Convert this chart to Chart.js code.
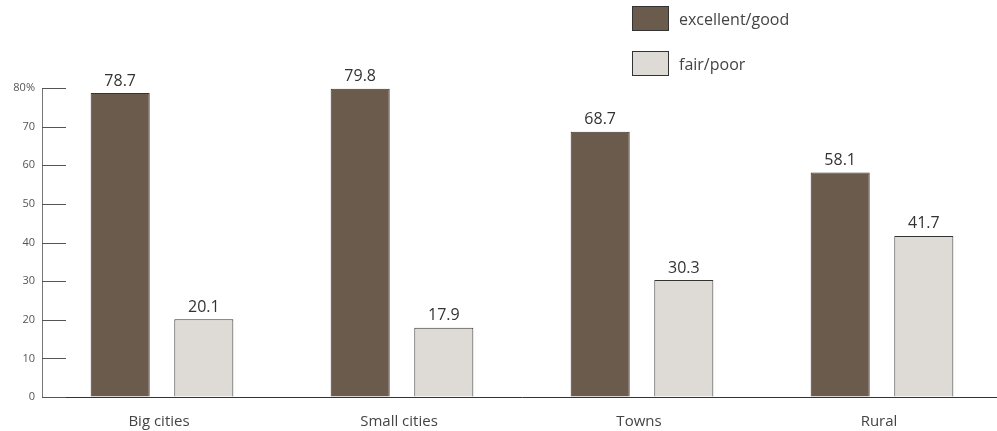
<!DOCTYPE html>
<html>
<head>
<meta charset="utf-8">
<script src="https://cdn.jsdelivr.net/npm/chart.js@4.4.1/dist/chart.umd.min.js"></script>
<style>
  html, body { margin: 0; padding: 0; background: #ffffff; overflow: hidden; }
  #wrap { position: relative; width: 997px; height: 431px; overflow: hidden; }
  #c { display: block; }
  #legend { position: absolute; left: 632px; top: 6px; font-family: "Open Sans", "Noto Sans", sans-serif; font-size: 16px; color: #444; }
  .item { display: flex; align-items: center; height: 25px; margin-bottom: 20px; }
  .swatch { width: 35px; height: 23px; border: 1px solid #333; margin-right: 10px; box-sizing: content-box; }
</style>
</head>
<body>
<div id="wrap">
  <canvas id="c" width="1002" height="431"></canvas>
  <div id="legend"></div>
</div>
<script>
// Share of respondents rating by settlement type (%)
const categories = ["Big cities", "Small cities", "Towns", "Rural"];
const excellentGood = [78.7, 79.8, 68.7, 58.1];
const fairPoor = [20.1, 17.9, 30.3, 41.7];
const seriesNames = ["excellent/good", "fair/poor"];
const yTicks = [0, 10, 20, 30, 40, 50, 60, 70, 80];

const DARK = "#6a5b4d";
const LIGHT = "#dedad6";
const FONT = '"Open Sans", "Noto Sans", sans-serif';

// value labels above each bar
const valueLabels = {
  id: "valueLabels",
  afterDatasetsDraw(chart) {
    const ctx = chart.ctx;
    ctx.save();
    ctx.font = "16px " + FONT;
    ctx.fillStyle = "#333";
    ctx.textAlign = "center";
    ctx.textBaseline = "bottom";
    chart.data.datasets.forEach((ds, i) => {
      chart.getDatasetMeta(i).data.forEach((bar, j) => {
        ctx.fillText(ds.data[j].toFixed(1), bar.x, bar.y - 4);
      });
    });
    ctx.restore();
  }
};

// short tick marks drawn inward from the y axis
const innerTicks = {
  id: "innerTicks",
  afterDraw(chart) {
    const y = chart.scales.y;
    const ctx = chart.ctx;
    const left = chart.chartArea.left;
    ctx.save();
    ctx.strokeStyle = "#555";
    ctx.lineWidth = 1;
    yTicks.forEach(v => {
      const py = Math.round(y.getPixelForValue(v)) + 0.5;
      ctx.beginPath();
      ctx.moveTo(left, py);
      ctx.lineTo(left + 24, py);
      ctx.stroke();
    });
    ctx.restore();
  }
};

const chart = new Chart(document.getElementById("c"), {
  type: "bar",
  data: {
    labels: categories,
    datasets: [
      { label: seriesNames[0], data: excellentGood, backgroundColor: DARK, borderColor: "#3a322b", borderWidth: 1 },
      { label: seriesNames[1], data: fairPoor, backgroundColor: LIGHT, borderColor: "#333", borderWidth: 1 }
    ]
  },
  options: {
    responsive: false,
    animation: false,
    layout: { padding: { top: 88, right: 0, left: 0, bottom: 0 } },
    datasets: { bar: { categoryPercentage: 0.697, barPercentage: 0.706 } },
    plugins: { legend: { display: false }, tooltip: { enabled: false } },
    scales: {
      x: {
        grid: { display: false },
        border: { display: true, color: "#333", width: 1 },
        ticks: { font: { family: FONT, size: 15 }, color: "#444", padding: 8, labelOffset: -3 },
        afterFit(s) { s.height = 34; }
      },
      y: {
        min: 0, max: 80,
        afterBuildTicks(s) { s.ticks = yTicks.map(v => ({ value: v })); },
        grid: { display: true, drawOnChartArea: false, drawTicks: false },
        border: { display: true, color: "#777", width: 1 },
        ticks: {
          font: { family: FONT, size: 11 }, color: "#555", padding: 7,
          callback: v => v === 80 ? v + "%" : String(v)
        },
        afterFit(s) { s.width = 42; }
      }
    }
  },
  plugins: [valueLabels, innerTicks]
});

// legend built from the datasets
const legend = document.getElementById("legend");
chart.data.datasets.forEach(ds => {
  const item = document.createElement("div");
  item.className = "item";
  const sw = document.createElement("span");
  sw.className = "swatch";
  sw.style.background = ds.backgroundColor;
  const tx = document.createElement("span");
  tx.textContent = ds.label;
  item.appendChild(sw);
  item.appendChild(tx);
  legend.appendChild(item);
});
</script>
</body>
</html>
